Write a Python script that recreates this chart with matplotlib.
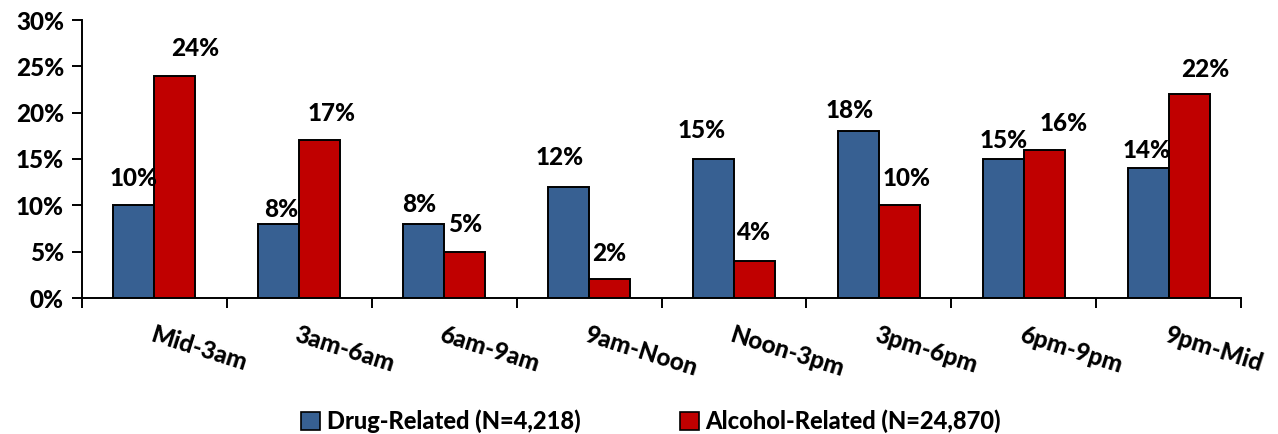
import matplotlib
matplotlib.use("Agg")
import matplotlib.pyplot as plt
from matplotlib.patches import Patch
import numpy as np

# Share of crashes by time of day
time_slots = ["Mid-3am", "3am-6am", "6am-9am", "9am-Noon",
              "Noon-3pm", "3pm-6pm", "6pm-9pm", "9pm-Mid"]
drug_pct = [10, 8, 8, 12, 15, 18, 15, 14]
alcohol_pct = [24, 17, 5, 2, 4, 10, 16, 22]
drug_label = "Drug-Related (N=4,218)"
alcohol_label = "Alcohol-Related (N=24,870)"
y_ticks = [0, 5, 10, 15, 20, 25, 30]

# Hand-placed label nudges (pixels: dx, height of text centre above bar top)
drug_nudge = [(0, 27), (2, 14), (-5, 19), (-9, 29), (-12, 29), (-9, 21), (0, 19), (-1, 18)]
alcohol_nudge = [(20, 27), (12, 27), (0, 27), (0, 26), (-1, 28), (7, 27), (19, 26), (16, 25)]

BLUE = "#376092"
RED = "#C00000"
FONT = "Lato"
WEIGHT = 900

plt.rcParams["font.family"] = [FONT, "DejaVu Sans"]
plt.rcParams["font.weight"] = WEIGHT

DPI = 100
fig = plt.figure(figsize=(12.78, 4.34), dpi=DPI)
W, H = 1278, 434
ax = fig.add_axes([82 / W, 1 - 298 / H, (1241 - 82) / W, (298 - 20) / H])

x = np.arange(len(time_slots))
bw = 0.283
ax.bar(x - bw / 2, drug_pct, bw, color=BLUE, edgecolor="black", linewidth=1.4, zorder=3)
ax.bar(x + bw / 2, alcohol_pct, bw, color=RED, edgecolor="black", linewidth=1.4, zorder=3)

px = 72 / DPI
FS = 17.5
for i in range(len(time_slots)):
    for val, off, nudge in ((drug_pct[i], -bw / 2, drug_nudge[i]),
                            (alcohol_pct[i], bw / 2, alcohol_nudge[i])):
        ax.annotate(f"{val}%", (x[i] + off, val),
                    xytext=(nudge[0] * px, nudge[1] * px), textcoords="offset points",
                    ha="center", va="center", fontsize=FS, fontweight=WEIGHT,
                    color="black", zorder=4)

ax.set_xlim(-0.5, len(time_slots) - 0.5)
ax.set_ylim(0, 30)
ax.set_yticks(y_ticks)
ax.set_yticklabels([f"{t}%" for t in y_ticks], fontsize=FS, fontweight=WEIGHT)

# Category boundary ticks, labels placed separately
ax.set_xticks(np.arange(len(time_slots) + 1) - 0.5)
ax.set_xticklabels([])
ax.tick_params(axis="x", direction="out", length=7, width=1.4, color="black")
ax.tick_params(axis="y", direction="out", length=7, width=1.4, color="black", pad=6)

for xi, lab in zip(x, time_slots):
    ax.annotate(lab, (xi, 0), xytext=(0, -25 * px), textcoords="offset points",
                ha="left", va="top", rotation=-17.5, rotation_mode="anchor",
                fontsize=FS, fontweight=WEIGHT, annotation_clip=False)

for s in ("top", "right"):
    ax.spines[s].set_visible(False)
for s in ("left", "bottom"):
    ax.spines[s].set_linewidth(1.4)
    ax.spines[s].set_color("black")

handles = [Patch(facecolor=BLUE, edgecolor="black", linewidth=1.2, label=drug_label),
           Patch(facecolor=RED, edgecolor="black", linewidth=1.2, label=alcohol_label)]
fig.legend(handles=handles, loc="center", bbox_to_anchor=(651 / W, 1 - 421 / H),
           ncol=2, frameon=False, handlelength=0.8, handleheight=0.8,
           handletextpad=0.3, columnspacing=4.2, borderpad=0.2,
           prop={"family": FONT, "weight": WEIGHT, "size": 17})

fig.savefig("out.png", dpi=DPI)
